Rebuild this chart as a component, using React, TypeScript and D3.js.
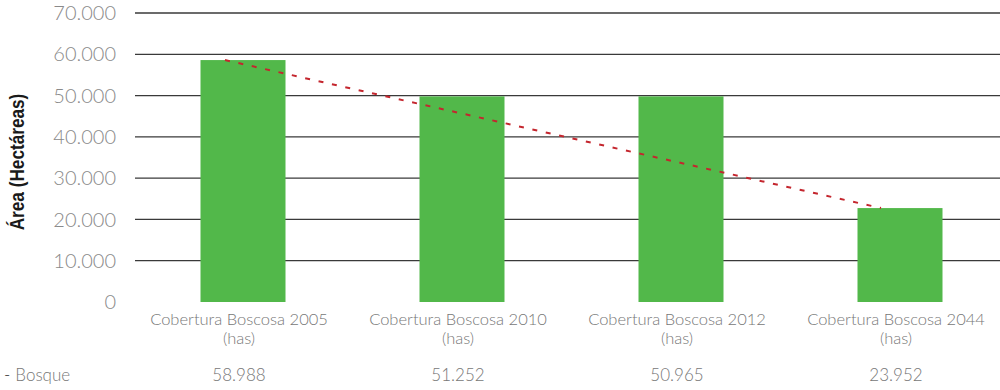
import React from "react";
import * as d3 from "d3";

const categories = [
  "Cobertura Boscosa 2005",
  "Cobertura Boscosa 2010",
  "Cobertura Boscosa 2012",
  "Cobertura Boscosa 2044",
];
const categoryUnit = "(has)";
// bar heights as drawn in the picture
const barValues = [58600, 49800, 49800, 22750];
// values printed in the data table
const tableValues = ["58.988", "51.252", "50.965", "23.952"];
const seriesName = "Bosque";
const yTicks = [0, 10000, 20000, 30000, 40000, 50000, 60000, 70000];
const yTitle = "Área (Hectáreas)";

const W = 1000;
const H = 390;

const fmt = (v: number) =>
  v === 0 ? "0" : d3.format(",")(v).replace(/,/g, ".");

export default function App() {
  const x = d3.scalePoint<string>().domain(categories).range([239, 896]);
  const y = d3.scaleLinear().domain([0, 70000]).range([302, 13]);
  const barW = 85;
  const barOffset = 4;
  const trendOffset = -14;

  const trendData: [number, number][] = [
    [x(categories[0])! + trendOffset, y(barValues[0])],
    [x(categories[3])! + trendOffset - 1, y(barValues[3])],
  ];
  const line = d3.line();

  const tickFont = "Lato, 'Open Sans', sans-serif";

  return (
    <svg
      width={W}
      height={H}
      style={{ position: "absolute", left: 0, top: 0, background: "#fff" }}
    >
      {/* gridlines */}
      {yTicks.map((t) => (
        <line
          key={t}
          x1={135}
          x2={W}
          y1={y(t)}
          y2={y(t)}
          stroke={t === 0 ? "none" : "#3a3a3a"}
          strokeWidth={1.3}
        />
      ))}
      {/* y tick labels */}
      {yTicks.map((t) => (
        <text
          key={"l" + t}
          x={116}
          y={y(t)}
          dy="0.36em"
          textAnchor="end"
          fontFamily={tickFont}
          fontWeight={300}
          fontSize={20}
          fill="#8a8a8a"
        >
          {fmt(t)}
        </text>
      ))}
      {/* y title */}
      <text
        transform={`translate(24,${162}) rotate(-90) scale(0.86,1)`}
        textAnchor="middle"
        fontFamily="'Liberation Sans', Arial, sans-serif"
        fontWeight={600}
        fontSize={20}
        fill="#1a1a1a"
      >
        {yTitle}
      </text>
      {/* bars */}
      {categories.map((c, i) => (
        <rect
          key={c}
          x={x(c)! + barOffset - barW / 2}
          y={y(barValues[i])}
          width={barW}
          height={y(0) - y(barValues[i])}
          fill="#52b84a"
        />
      ))}
      {/* trend line */}
      <path
        d={line(trendData) || ""}
        fill="none"
        stroke="#c4262e"
        strokeWidth={2}
        strokeDasharray="5 8.7"
      />
      {/* category labels */}
      {categories.map((c) => (
        <text
          key={"c" + c}
          x={x(c)!}
          textAnchor="middle"
          fontFamily={tickFont}
          fontWeight={300}
          fontSize={16.5}
          fill="#777"
        >
          <tspan x={x(c)!} y={325}>
            {c}
          </tspan>
          <tspan x={x(c)!} y={344}>
            {categoryUnit}
          </tspan>
        </text>
      ))}
      {/* data table row */}
      <text
        x={4}
        y={381}
        fontFamily={tickFont}
        fontWeight={300}
        fontSize={17}
        fill="#777"
      >
        <tspan fill="#222">-</tspan>
        <tspan dx={5}>{seriesName}</tspan>
      </text>
      {categories.map((c, i) => (
        <text
          key={"v" + c}
          x={x(c)!}
          y={381}
          textAnchor="middle"
          fontFamily={tickFont}
          fontWeight={300}
          fontSize={17}
          fill="#777"
        >
          {tableValues[i]}
        </text>
      ))}
    </svg>
  );
}
